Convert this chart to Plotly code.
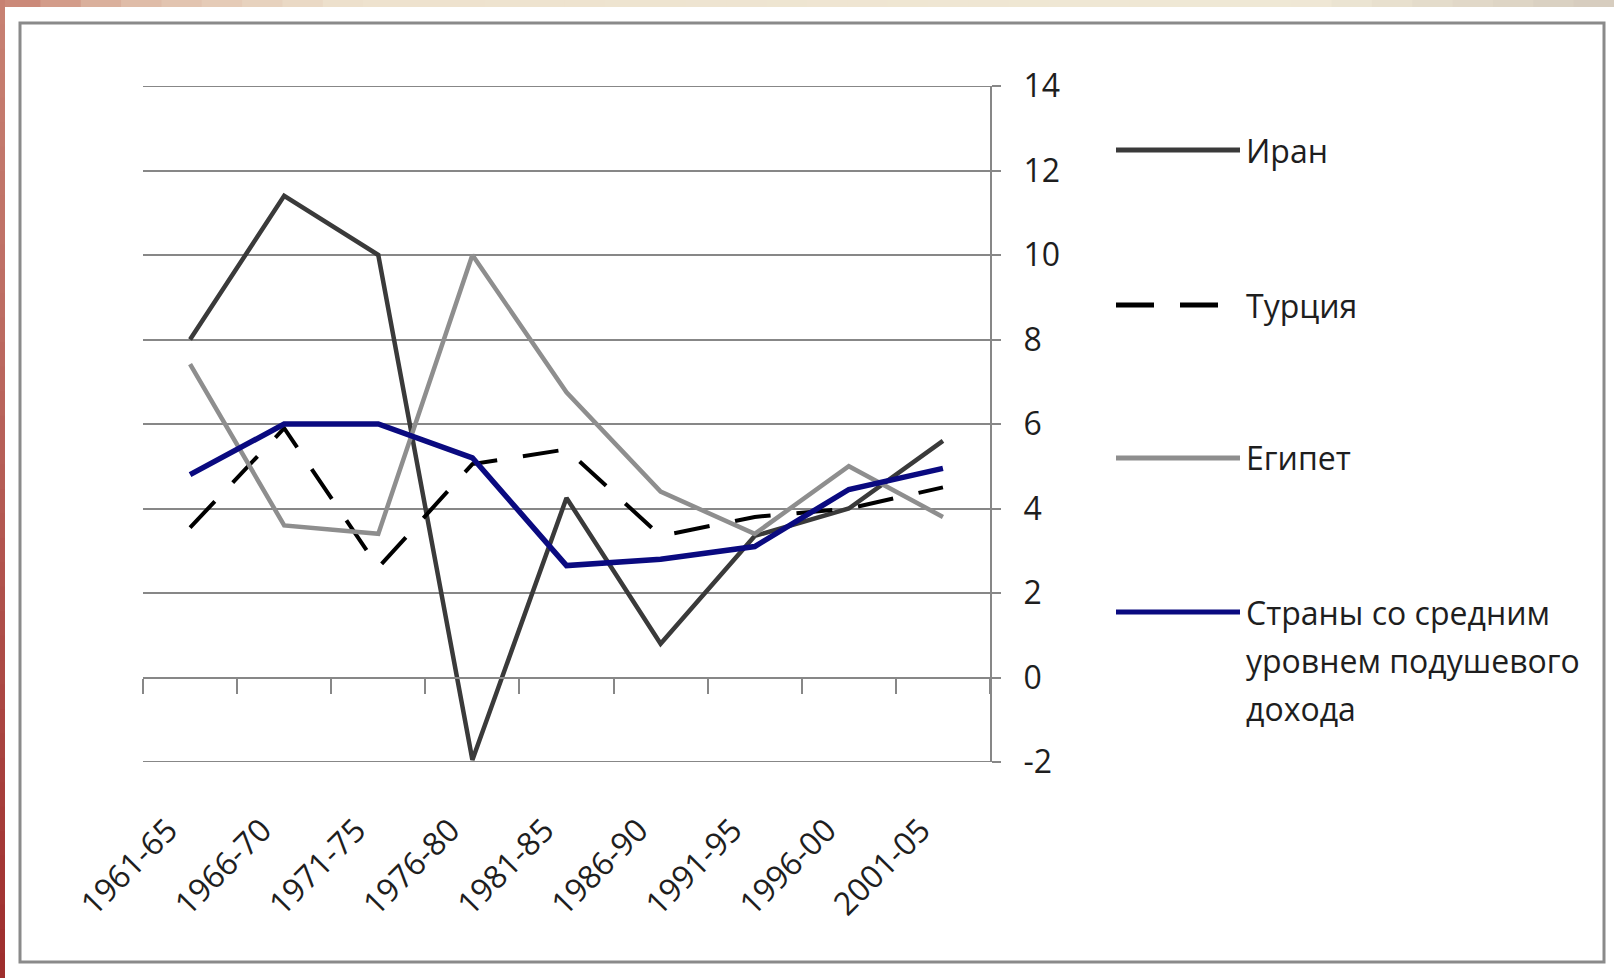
import plotly.graph_objects as go

categories = ["1961-65", "1966-70", "1971-75", "1976-80", "1981-85",
              "1986-90", "1991-95", "1996-00", "2001-05"]
iran = [8.0, 11.4, 10.0, -1.95, 4.25, 0.8, 3.35, 4.0, 5.6]
turkey = [3.55, 5.9, 2.6, 5.05, 5.4, 3.35, 3.8, 4.0, 4.5]
egypt = [7.42, 3.6, 3.4, 10.0, 6.75, 4.4, 3.4, 5.0, 3.8]
middle_income = [4.8, 6.0, 6.0, 5.2, 2.65, 2.8, 3.1, 4.45, 4.95]

series_names = ["Иран", "Турция", "Египет"]
last_name_lines = ["Страны со средним", "уровнем подушевого", "дохода"]
y_tick_values = [-2, 0, 2, 4, 6, 8, 10, 12, 14]
y_tick_labels = ["-2", "0", "2", "4", "6", "8", "10", "12", "14"]

W, H = 1614, 978
L, R, T, B = 143, 990, 86, 762
FONT = "Open Sans"
FS = 31
TXT = "#1e1e1e"
GRID = "#878787"


def px(x):
    return (x - L) / (R - L)


def py(y):
    return (B - y) / (B - T)


fig = go.Figure()
fig.add_trace(go.Scatter(x=categories, y=iran, mode="lines", name="Иран",
                         line=dict(color="#3a3a3a", width=4.5)))
fig.add_trace(go.Scatter(x=categories, y=turkey, mode="lines", name="Турция",
                         line=dict(color="#000000", width=4, dash="36px,26px")))
fig.add_trace(go.Scatter(x=categories, y=egypt, mode="lines", name="Египет",
                         line=dict(color="#8e8e8e", width=4.5)))
fig.add_trace(go.Scatter(x=categories, y=middle_income, mode="lines",
                         name="Страны со средним уровнем подушевого дохода",
                         line=dict(color="#0a0a80", width=5.5)))
# helper trace so the secondary (tick) axis is rendered
fig.add_trace(go.Scatter(x=[-0.5, 8.5], y=[0, 0], xaxis="x2", mode="lines",
                         line=dict(width=0, color="rgba(0,0,0,0)"),
                         hoverinfo="skip", showlegend=False))

shapes = []
# slide background strips (gradient approximation)
top_stops = [(0, (200, 128, 112)), (120, (222, 185, 165)), (350, (238, 226, 206)),
             (1300, (240, 233, 214)), (1614, (214, 204, 190))]


def interp(stops, v):
    for (a, ca), (b, cb) in zip(stops[:-1], stops[1:]):
        if a <= v <= b:
            t = (v - a) / (b - a) if b > a else 0
            return tuple(int(ca[k] + (cb[k] - ca[k]) * t) for k in range(3))
    return stops[-1][1]


n = 40
for i in range(n):
    x0 = W * i / n
    x1 = W * (i + 1) / n + 1
    c = interp(top_stops, (x0 + x1) / 2)
    shapes.append(dict(type="rect", xref="paper", yref="paper",
                       x0=px(x0), x1=px(x1), y0=py(0), y1=py(7),
                       fillcolor="rgb(%d,%d,%d)" % c, line=dict(width=0), layer="below"))
left_stops = [(0, (200, 130, 115)), (300, (190, 110, 100)), (978, (158, 45, 45))]
for i in range(n):
    y0 = H * i / n
    y1 = H * (i + 1) / n + 1
    c = interp(left_stops, (y0 + y1) / 2)
    shapes.append(dict(type="rect", xref="paper", yref="paper",
                       x0=px(0), x1=px(5), y0=py(y0), y1=py(y1),
                       fillcolor="rgb(%d,%d,%d)" % c, line=dict(width=0), layer="below"))
# chart frame
shapes.append(dict(type="rect", xref="paper", yref="paper",
                   x0=px(20), x1=px(1604), y0=py(23), y1=py(962),
                   line=dict(color="#8a8a8a", width=3), layer="below"))
# edge gridlines (plotly skips gridlines at the range ends)
for yv in (y_tick_values[0], y_tick_values[-1]):
    shapes.append(dict(type="line", xref="paper", yref="y", x0=0, x1=1, y0=yv, y1=yv,
                       line=dict(color=GRID, width=2), layer="below"))

# custom legend
legend_y = [150, 305, 458, 612]
line_gap = 48
styles = [dict(color="#3a3a3a", width=5), dict(color="#000000", width=5, dash="38px,26px"),
          dict(color="#8e8e8e", width=5), dict(color="#0a0a80", width=5)]
annotations = []
for yy, st in zip(legend_y, styles):
    shapes.append(dict(type="line", xref="paper", yref="paper",
                       x0=px(1116), x1=px(1240), y0=py(yy), y1=py(yy), line=st))
for yy, name in zip(legend_y[:3], series_names):
    annotations.append(dict(xref="paper", yref="paper", x=px(1244), y=py(yy),
                            text=name, showarrow=False, xanchor="left", yanchor="middle",
                            font=dict(family=FONT, size=32, color=TXT)))
for k, line in enumerate(last_name_lines):
    annotations.append(dict(xref="paper", yref="paper", x=px(1244), y=py(legend_y[3] + line_gap * k),
                            text=line, showarrow=False, xanchor="left", yanchor="middle",
                            font=dict(family=FONT, size=32, color=TXT)))

fig.update_layout(
    width=W, height=H,
    margin=dict(l=L, r=W - R, t=T, b=H - B, pad=0),
    paper_bgcolor="white", plot_bgcolor="white",
    showlegend=False,
    font=dict(family=FONT, size=FS, color=TXT),
    xaxis=dict(type="category", range=[-0.5, 8.5], showgrid=False, showline=False,
               zeroline=False, ticks="", tickangle=-45,
               tickfont=dict(family=FONT, size=32, color=TXT),
               ticklabelstandoff=42, ticklabelshift=-22),
    xaxis2=dict(overlaying="x", anchor="free", position=0.125, side="bottom",
                range=[-0.5, 8.5], tickmode="linear", tick0=-0.5, dtick=1,
                showline=True, linecolor=GRID, linewidth=2,
                ticks="outside", ticklen=15, tickwidth=2, tickcolor=GRID,
                showticklabels=False, showgrid=False, zeroline=False),
    yaxis=dict(side="right", range=[-2, 14], tickmode="array",
               tickvals=y_tick_values, ticktext=y_tick_labels,
               showgrid=True, gridcolor=GRID, gridwidth=2,
               showline=True, linecolor=GRID, linewidth=2,
               ticks="outside", ticklen=9, tickwidth=2, tickcolor=GRID,
               zeroline=False, ticklabelstandoff=16,
               tickfont=dict(family=FONT, size=32, color=TXT)),
    shapes=shapes,
    annotations=annotations,
)

fig.write_html("out.html", config={"displayModeBar": False},
               post_script="document.body.style.margin='0';document.body.style.overflow='hidden';")
